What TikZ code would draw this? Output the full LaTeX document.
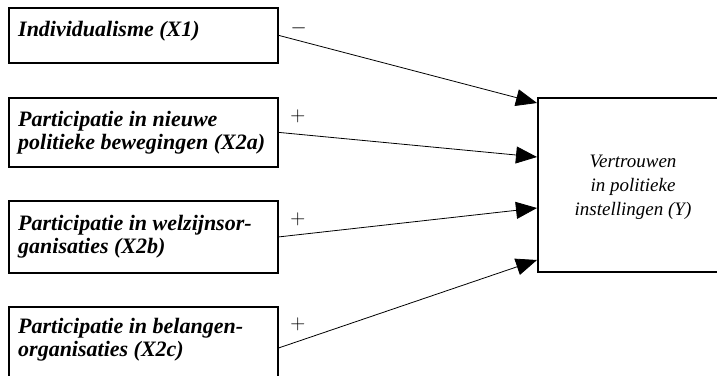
\documentclass[tikz,border=0pt]{standalone}
\usepackage{fontspec}
\setmainfont{Liberation Serif}
\usetikzlibrary{calc, arrows.meta}

\tikzset{
  xbox/.style={draw, line width=1.8pt, minimum width=269pt, inner sep=0pt, anchor=north west},
  xtext/.style={anchor=base west, align=left, inner sep=0pt,
    font=\fontsize{22}{23}\selectfont\bfseries\itshape},
  ytext/.style={align=center, inner sep=0pt, font=\fontsize{19}{24}\selectfont\itshape},
  pad/.style={-{Triangle[length=21pt,width=17pt]}, line width=0.8pt},
  sign/.style={inner sep=0pt, font=\fontsize{21}{21}\selectfont}
}

\begin{document}
\begin{tikzpicture}[x=1pt, y=-1pt]
  \useasboundingbox (0,0) rectangle (717,375);
  \clip (0,0) rectangle (717,375);

  % causes
  \node[xbox, minimum height=55pt] (x1) at (8,7) {};
  \node[xbox, minimum height=69pt] (x2) at (8,97) {};
  \node[xbox, minimum height=72pt] (x3) at (8,200) {};
  \node[xbox, minimum height=82pt] (x4) at (8,306) {};

  % base of a two-line text is its second line
  \node[xtext] (t1) at ($(x1.north west)+(10,29)$) {Individualisme (X1)};
  \node[xtext] (t2) at ($(x2.north west)+(10,52)$) {Participatie in nieuwe\\politieke bewegingen (X2a)};
  \node[xtext] (t3) at ($(x3.north west)+(10,53)$) {Participatie in welzijnsor-\\ganisaties (X2b)};
  \node[xtext] (t4) at ($(x4.north west)+(10,50)$) {Participatie in belangen-\\organisaties (X2c)};

  % effect
  \node[draw, line width=1.8pt, anchor=north west, minimum width=200pt,
        minimum height=174pt, inner sep=0pt] (y) at (537,97) {};
  \node[ytext] (ty) at (633,187) {Vertrouwen\\in politieke\\instellingen (Y)};

  \coordinate (y1) at ($(y.north west)+(0,6)$);
  \coordinate (y2) at ($(y.north west)+(0,60)$);
  \coordinate (y3) at ($(y.north west)+(0,111)$);
  \coordinate (y4) at ($(y.north west)+(0,163)$);

  \draw[pad] (x1.east) -- (y1);
  \draw[pad] (x2.east) -- (y2);
  \draw[pad] (x3.east) -- (y3);
  \draw[pad] (x4.east) -- (y4);

  \node[sign] (s1) at ($(x1.east)+(20,-7.5)$) {$-$};
  \node[sign] (s2) at ($(x2.east)+(19,-16)$) {$+$};
  \node[sign] (s3) at ($(x3.east)+(19,-18)$) {$+$};
  \node[sign] (s4) at ($(x4.east)+(19,-24)$) {$+$};
\end{tikzpicture}
\end{document}
